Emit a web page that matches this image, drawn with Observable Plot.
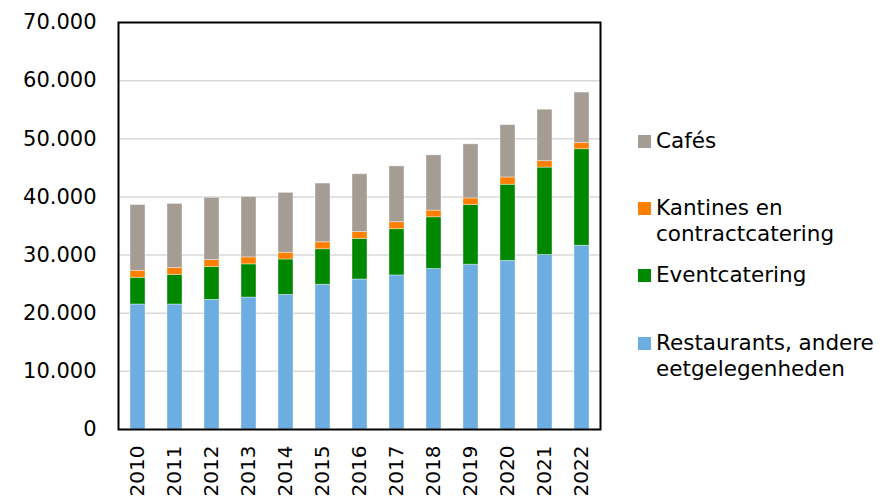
<!DOCTYPE html>
<html>
<head>
<meta charset="utf-8">
<script src="https://cdn.jsdelivr.net/npm/d3@7"></script>
<script src="https://cdn.jsdelivr.net/npm/@observablehq/plot@0.6"></script>
<style>
  html, body { margin: 0; padding: 0; background: #fff; }
  #wrap { position: relative; width: 884px; height: 498px; overflow: hidden; font-family: "DejaVu Sans", sans-serif; }
  #chart { position: absolute; left: 0; top: 0; }
  .lg-sq { position: absolute; width: 13px; height: 13px; }
  .lg-tx { position: absolute; font-size: 21.5px; line-height: 26px; color: #000; white-space: nowrap; }
  #chart g[aria-label="x-axis tick label"] text { font-size: 20px; }
</style>
</head>
<body>
<div id="wrap"><div id="chart"></div></div>
<script>
const years = ["2010","2011","2012","2013","2014","2015","2016","2017","2018","2019","2020","2021","2022"];
const seriesNames = ["Restaurants, andere eetgelegenheden", "Eventcatering", "Kantines en contractcatering", "Cafés"];
const seriesColors = ["#6CADE2", "#008800", "#FF7F00", "#A59C94"];
const restaurants = [21500,21500,22300,22700,23150,24900,25800,26500,27600,28350,29000,30000,31600];
const eventcatering = [4600,5100,5650,5700,6100,6100,7000,7950,8900,10250,13100,15050,16600];
const kantines = [1200,1200,1200,1200,1150,1200,1150,1200,1150,1150,1250,1100,1100];
const cafes = [11300,11000,10700,10400,10300,10100,9950,9600,9500,9300,9000,8850,8650];
const yTicks = [0,10000,20000,30000,40000,50000,60000,70000];

const seriesValues = [restaurants, eventcatering, kantines, cafes];
const data = [];
years.forEach((yr, i) => {
  seriesNames.forEach((s, j) => data.push({year: yr, series: s, value: seriesValues[j][i]}));
});

const nl = d3.formatLocale({decimal: ",", thousands: ".", grouping: [3], currency: ["€", ""]});
const fmt = nl.format(",");

const plot = Plot.plot({
  width: 620,
  height: 498,
  marginLeft: 118,
  marginRight: 20,
  marginTop: 22,
  marginBottom: 69,
  style: {fontFamily: "DejaVu Sans", fontSize: "21px", color: "#000", background: "#fff"},
  x: {domain: years, paddingInner: 0.6, paddingOuter: 0.3, label: null, tickSize: 0, tickRotate: -90, tickPadding: 16},
  y: {domain: [0, 70000], ticks: yTicks, tickFormat: fmt, label: null, tickSize: 0, tickPadding: 22},
  color: {domain: seriesNames, range: seriesColors},
  marks: [
    Plot.ruleY(yTicks.slice(1, -1), {stroke: "#D9D9D9", strokeWidth: 1.5}),
    Plot.barY(data, {x: "year", y: "value", fill: "series", z: "series", stroke: "#fff", strokeOpacity: 0.5, strokeWidth: 0.75}),
    Plot.frame({stroke: "#000", strokeWidth: 2})
  ]
});
plot.querySelectorAll('g[aria-label="x-axis tick label"] text').forEach(t => t.setAttribute("font-size", "20"));
plot.querySelectorAll('g[aria-label="x-axis tick label"]').forEach(g => g.setAttribute("font-size", "20"));
document.getElementById("chart").appendChild(plot);

// Legend
const legendItems = [
  {lines: ["Cafés"], cy: 141, color: seriesColors[3]},
  {lines: ["Kantines en", "contractcatering"], cy: 208, color: seriesColors[2]},
  {lines: ["Eventcatering"], cy: 275, color: seriesColors[1]},
  {lines: ["Restaurants, andere", "eetgelegenheden"], cy: 343, color: seriesColors[0]}
];
const wrap = document.getElementById("wrap");
legendItems.forEach(it => {
  const sq = document.createElement("div");
  sq.className = "lg-sq";
  sq.style.left = "638px";
  sq.style.top = (it.cy - 6.5) + "px";
  sq.style.background = it.color;
  wrap.appendChild(sq);
  const tx = document.createElement("div");
  tx.className = "lg-tx";
  tx.style.left = "656px";
  tx.style.top = (it.cy - 13) + "px";
  tx.innerHTML = it.lines.join("<br>");
  wrap.appendChild(tx);
});
</script>
</body>
</html>
